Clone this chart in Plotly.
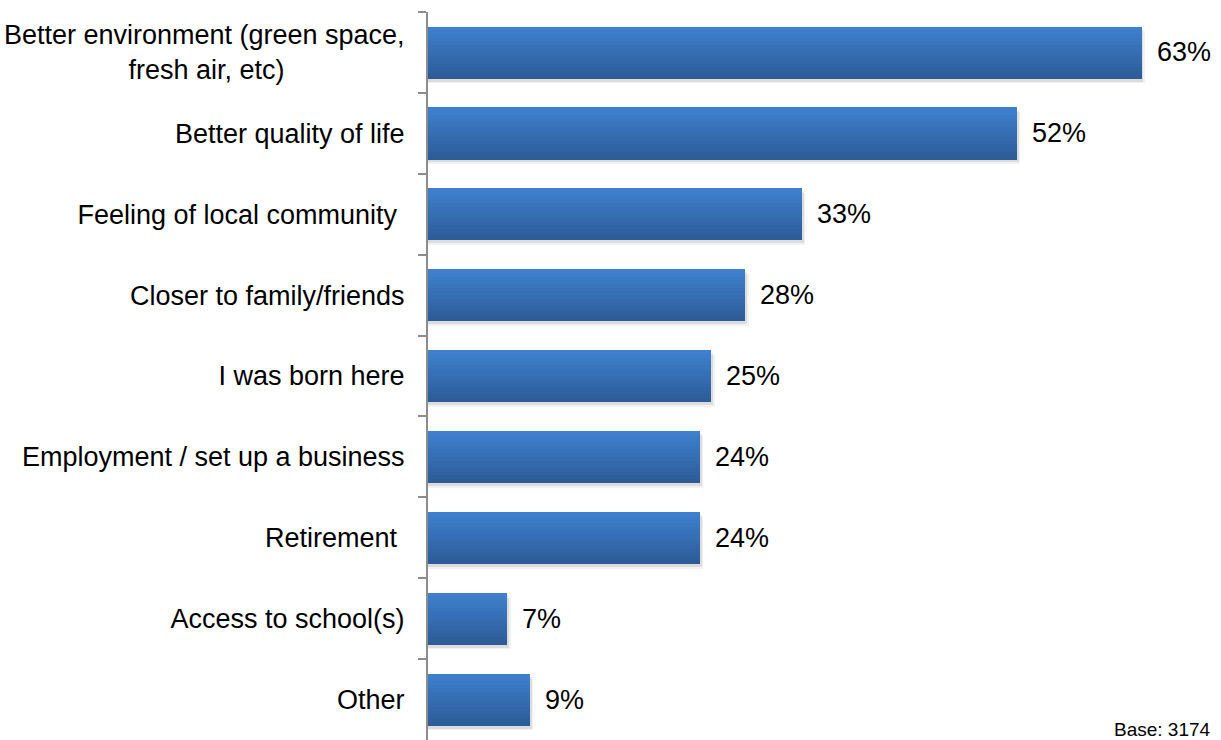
import plotly.graph_objects as go

# Reasons given for moving to the area (share of respondents)
categories = [
    "Better environment (green space,<br>fresh air, etc)" + "\u00a0" * 16,
    "Better quality of life",
    "Feeling of local community\u00a0",
    "Closer to family/friends",
    "I was born here",
    "Employment / set up a business",
    "Retirement\u00a0",
    "Access to school(s)",
    "Other",
]
values = [63, 52, 33, 28, 25, 24, 24, 7, 9]
value_labels = ["63%", "52%", "33%", "28%", "25%", "24%", "24%", "7%", "9%"]
base_note = "Base: 3174"

FONT = "Liberation Sans, Arial, sans-serif"
BAR_W = 0.64
N_STRIPS = 14
TOP = (62, 128, 205)
BOTTOM = (45, 92, 153)

fig = go.Figure()

# soft drop shadow behind each bar
for k, alpha in enumerate([0.05, 0.09]):
    fig.add_trace(go.Bar(
        x=[v + 0.3 - 0.15 * k for v in values],
        y=categories,
        orientation="h",
        width=BAR_W,
        offset=-BAR_W / 2 + 0.06 - 0.02 * k,
        marker=dict(color=f"rgba(0,0,0,{alpha})", line=dict(width=0)),
        hoverinfo="skip",
        showlegend=False,
    ))

# vertical gradient built from thin horizontal strips of the same bar
strip = BAR_W / N_STRIPS
for i in range(N_STRIPS):
    t = i / (N_STRIPS - 1)
    r, g, b = (round(TOP[c] + (BOTTOM[c] - TOP[c]) * t) for c in range(3))
    fig.add_trace(go.Bar(
        x=values,
        y=categories,
        orientation="h",
        width=strip * 1.08,
        offset=-BAR_W / 2 + i * strip,
        marker=dict(color=f"rgb({r},{g},{b})", line=dict(width=0)),
        hovertemplate="%{x}%<extra></extra>",
        showlegend=False,
    ))

annotations = [
    dict(x=v, y=c, text=lab, xref="x", yref="y", xanchor="left",
         yanchor="middle", xshift=13, showarrow=False,
         font=dict(family=FONT, size=27, color="#000000"))
    for c, v, lab in zip(categories, values, value_labels)
]
annotations.append(dict(
    x=1, y=0, xref="paper", yref="paper", xanchor="right", yanchor="bottom",
    xshift=-8, yshift=-2, text=base_note, showarrow=False,
    font=dict(family=FONT, size=19, color="#000000"),
))

fig.update_layout(
    width=1221,
    height=740,
    margin=dict(l=428, r=0, t=12, b=0),
    paper_bgcolor="white",
    plot_bgcolor="white",
    barmode="overlay",
    bargap=0,
    annotations=annotations,
    font=dict(family=FONT, size=27, color="#000000"),
    xaxis=dict(range=[0, 70], visible=False, fixedrange=True),
    yaxis=dict(
        autorange="reversed",
        showline=True,
        linecolor="#8c8c8c",
        linewidth=2,
        ticks="outside",
        tickson="boundaries",
        ticklen=8,
        tickwidth=2,
        tickcolor="#8c8c8c",
        ticklabelstandoff=16,
        showgrid=False,
        zeroline=False,
        tickfont=dict(family=FONT, size=27, color="#000000"),
        fixedrange=True,
    ),
)

fig.write_html("out.html")
